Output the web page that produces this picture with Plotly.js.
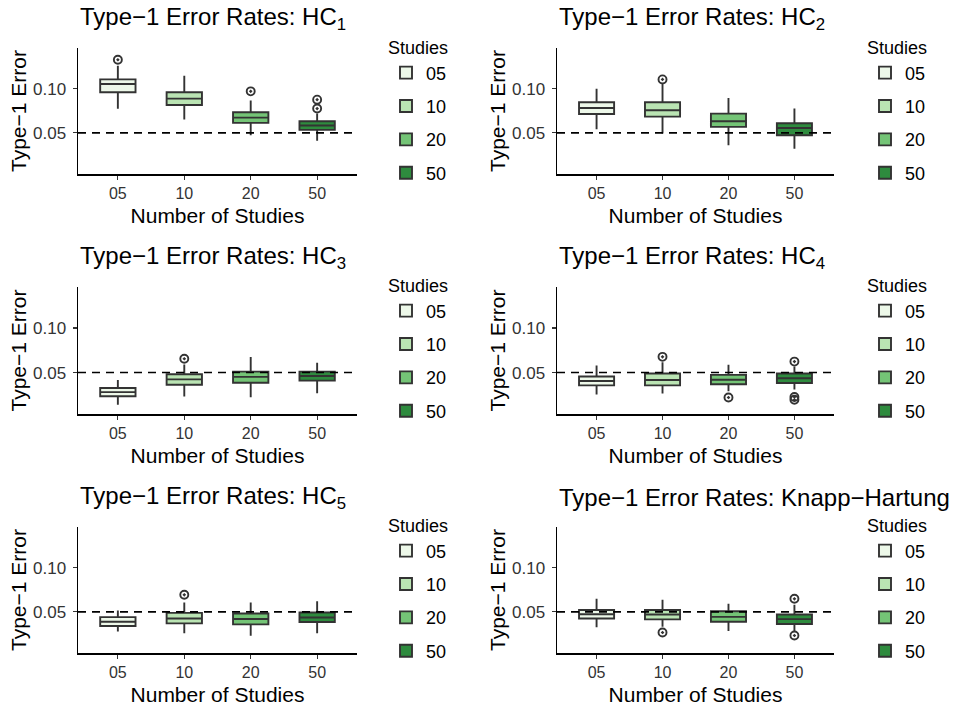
<!DOCTYPE html>
<html>
<head>
<meta charset="utf-8">
<script src="https://cdn.plot.ly/plotly-3.0.1.min.js"></script>
<style>html,body{margin:0;padding:0;background:#fff;}#chart{width:957px;height:706px;}</style>
</head>
<body>
<div id="chart"></div>
<script>
// ---------- data ----------
const categories = ["05", "10", "20", "50"];
const legendTitle = "Studies";
const threshold = 0.05;
const yTickVals = [0.05, 0.10];
const yTickText = ["0.05", "0.10"];
const fillColors = ["#EDF8E9", "#BAE4B3", "#74C476", "#2E8B3E"];

const panelTitles = [
  "Type\u22121 Error Rates: HC<sub>1</sub>",
  "Type\u22121 Error Rates: HC<sub>2</sub>",
  "Type\u22121 Error Rates: HC<sub>3</sub>",
  "Type\u22121 Error Rates: HC<sub>4</sub>",
  "Type\u22121 Error Rates: HC<sub>5</sub>",
  "Type\u22121 Error Rates: Knapp\u2212Hartung"
];

// HC1
const hc1_lower  = [0.0774, 0.0650, 0.0474, 0.0410];
const hc1_q1     = [0.0959, 0.0816, 0.0613, 0.0534];
const hc1_median = [0.1053, 0.0887, 0.0673, 0.0583];
const hc1_q3     = [0.1105, 0.0959, 0.0733, 0.0632];
const hc1_upper  = [0.1260, 0.1147, 0.0865, 0.0720];
const hc1_outX   = ["05", "20", "50", "50"];
const hc1_outY   = [0.1327, 0.0970, 0.0876, 0.0775];

// HC2
const hc2_lower  = [0.0541, 0.0492, 0.0361, 0.0320];
const hc2_q1     = [0.0714, 0.0684, 0.0568, 0.0474];
const hc2_median = [0.0782, 0.0756, 0.0632, 0.0556];
const hc2_q3     = [0.0846, 0.0846, 0.0718, 0.0609];
const hc2_upper  = [0.1000, 0.1053, 0.0895, 0.0775];
const hc2_outX   = ["10"];
const hc2_outY   = [0.1105];

// HC3
const hc3_lower  = [0.0140, 0.0231, 0.0223, 0.0269];
const hc3_q1     = [0.0235, 0.0364, 0.0386, 0.0409];
const hc3_median = [0.0280, 0.0424, 0.0451, 0.0462];
const hc3_q3     = [0.0326, 0.0481, 0.0511, 0.0511];
const hc3_upper  = [0.0417, 0.0590, 0.0674, 0.0610];
const hc3_outX   = ["10"];
const hc3_outY   = [0.0655];

// HC4
const hc4_lower  = [0.0254, 0.0265, 0.0290, 0.0310];
const hc4_q1     = [0.0356, 0.0356, 0.0368, 0.0383];
const hc4_median = [0.0405, 0.0417, 0.0420, 0.0436];
const hc4_q3     = [0.0455, 0.0489, 0.0474, 0.0489];
const hc4_upper  = [0.0580, 0.0617, 0.0587, 0.0567];
const hc4_outX   = ["10", "20", "50", "50", "50"];
const hc4_outY   = [0.0676, 0.0220, 0.0623, 0.0225, 0.0195];

// HC5
const hc5_lower  = [0.0278, 0.0259, 0.0230, 0.0259];
const hc5_q1     = [0.0341, 0.0370, 0.0359, 0.0385];
const hc5_median = [0.0389, 0.0426, 0.0419, 0.0437];
const hc5_q3     = [0.0441, 0.0489, 0.0481, 0.0493];
const hc5_upper  = [0.0515, 0.0607, 0.0607, 0.0619];
const hc5_outX   = ["10"];
const hc5_outY   = [0.0693];

// Knapp-Hartung
const kh_lower  = [0.0326, 0.0333, 0.0285, 0.0285];
const kh_q1     = [0.0426, 0.0415, 0.0389, 0.0363];
const kh_median = [0.0474, 0.0470, 0.0444, 0.0418];
const kh_q3     = [0.0522, 0.0522, 0.0507, 0.0470];
const kh_upper  = [0.0648, 0.0637, 0.0593, 0.0581];
const kh_outX   = ["10", "50", "50"];
const kh_outY   = [0.0267, 0.0648, 0.0233];

const panels = [
  {lower: hc1_lower, q1: hc1_q1, median: hc1_median, q3: hc1_q3, upper: hc1_upper, outX: hc1_outX, outY: hc1_outY},
  {lower: hc2_lower, q1: hc2_q1, median: hc2_median, q3: hc2_q3, upper: hc2_upper, outX: hc2_outX, outY: hc2_outY},
  {lower: hc3_lower, q1: hc3_q1, median: hc3_median, q3: hc3_q3, upper: hc3_upper, outX: hc3_outX, outY: hc3_outY},
  {lower: hc4_lower, q1: hc4_q1, median: hc4_median, q3: hc4_q3, upper: hc4_upper, outX: hc4_outX, outY: hc4_outY},
  {lower: hc5_lower, q1: hc5_q1, median: hc5_median, q3: hc5_q3, upper: hc5_upper, outX: hc5_outX, outY: hc5_outY},
  {lower: kh_lower, q1: kh_q1, median: kh_median, q3: kh_q3, upper: kh_upper, outX: kh_outX, outY: kh_outY}
];

// ---------- layout geometry (pixels) ----------
const W = 957, H = 706;
const colX = [[78, 357], [557, 834]];
const rowY = [[48, 174], [287, 414], [527, 653]];
const legendX = [386, 865];
const legendTopY = [31, 269, 509];
const FONT = "Liberation Sans, Arial, Helvetica, sans-serif";
const INK = "#333333";

const traces = [];
const layout = {
  width: W, height: H,
  margin: {l: 0, r: 0, t: 0, b: 0},
  paper_bgcolor: "#ffffff",
  plot_bgcolor: "#ffffff",
  font: {family: FONT, color: "#000000"},
  boxmode: "overlay",
  boxgap: 0.24,
  shapes: [],
  annotations: []
};

panels.forEach((p, i) => {
  const s = i === 0 ? "" : String(i + 1);
  const col = i % 2, row = Math.floor(i / 2);
  const xd = [colX[col][0] / W, colX[col][1] / W];
  const yd = [1 - rowY[row][1] / H, 1 - rowY[row][0] / H];
  const legName = i === 0 ? "legend" : "legend" + (i + 1);

  categories.forEach((c, k) => {
    traces.push({
      type: "box",
      name: c,
      x: [c],
      lowerfence: [p.lower[k]],
      q1: [p.q1[k]],
      median: [p.median[k]],
      q3: [p.q3[k]],
      upperfence: [p.upper[k]],
      boxpoints: false,
      whiskerwidth: 0,
      fillcolor: fillColors[k],
      line: {color: INK, width: 1.9},
      xaxis: "x" + s, yaxis: "y" + s,
      legend: legName,
      legendgroup: "g" + i + "_" + k,
      hoverinfo: "skip"
    });
  });
  traces.push({
    type: "scatter", mode: "markers",
    x: p.outX, y: p.outY,
    marker: {symbol: "circle-open-dot", size: 8, color: INK, line: {width: 1.9, color: INK}},
    xaxis: "x" + s, yaxis: "y" + s,
    showlegend: false, hoverinfo: "skip"
  });

  layout["xaxis" + s] = {
    domain: xd, anchor: "y" + s,
    type: "category", categoryorder: "array", categoryarray: categories,
    range: [-0.6, 3.6],
    showgrid: false, zeroline: false,
    showline: true, linecolor: "#000000", linewidth: 1.5,
    ticks: "outside", ticklen: 4, tickwidth: 1.2, tickcolor: INK,
    tickfont: {size: 16, color: INK, family: FONT},
    title: {text: "Number of Studies", font: {size: 21, color: "#000000", family: FONT}, standoff: 7},
    fixedrange: true
  };
  layout["yaxis" + s] = {
    domain: yd, anchor: "x" + s,
    range: [0.0035, 0.146],
    tickvals: yTickVals, ticktext: yTickText,
    showgrid: false, zeroline: false,
    showline: true, linecolor: "#000000", linewidth: 1.5,
    ticks: "outside", ticklen: 4, tickwidth: 1.2, tickcolor: INK,
    ticklabelstandoff: 3,
    tickfont: {size: 17, color: INK, family: FONT},
    title: {text: "Type\u22121 Error", font: {size: 21, color: "#000000", family: FONT}, standoff: 0},
    fixedrange: true
  };
  layout.shapes.push({
    type: "line", xref: "x" + s + " domain", x0: 0, x1: 1,
    yref: "y" + s, y0: threshold, y1: threshold,
    line: {color: "#000000", width: 1.6, dash: "8px,6px"},
    layer: "above"
  });
  layout.annotations.push({
    xref: "paper", yref: "paper",
    x: xd[0], y: 1 - (rowY[row][0] - 30) / H,
    xanchor: "left", yanchor: "middle",
    text: panelTitles[i], showarrow: false,
    font: {size: 24, color: "#000000", family: FONT}
  });
  layout[legName] = {
    x: legendX[col] / W, y: 1 - legendTopY[row] / H,
    xanchor: "left", yanchor: "top",
    bgcolor: "rgba(0,0,0,0)", borderwidth: 0,
    title: {text: legendTitle, font: {size: 18, color: "#000000", family: FONT}},
    font: {size: 18, color: "#000000", family: FONT},
    traceorder: "grouped", tracegroupgap: 7,
    itemclick: false, itemdoubleclick: false
  };
});

Plotly.newPlot("chart", traces, layout, {staticPlot: true, displayModeBar: false});
</script>
</body>
</html>
